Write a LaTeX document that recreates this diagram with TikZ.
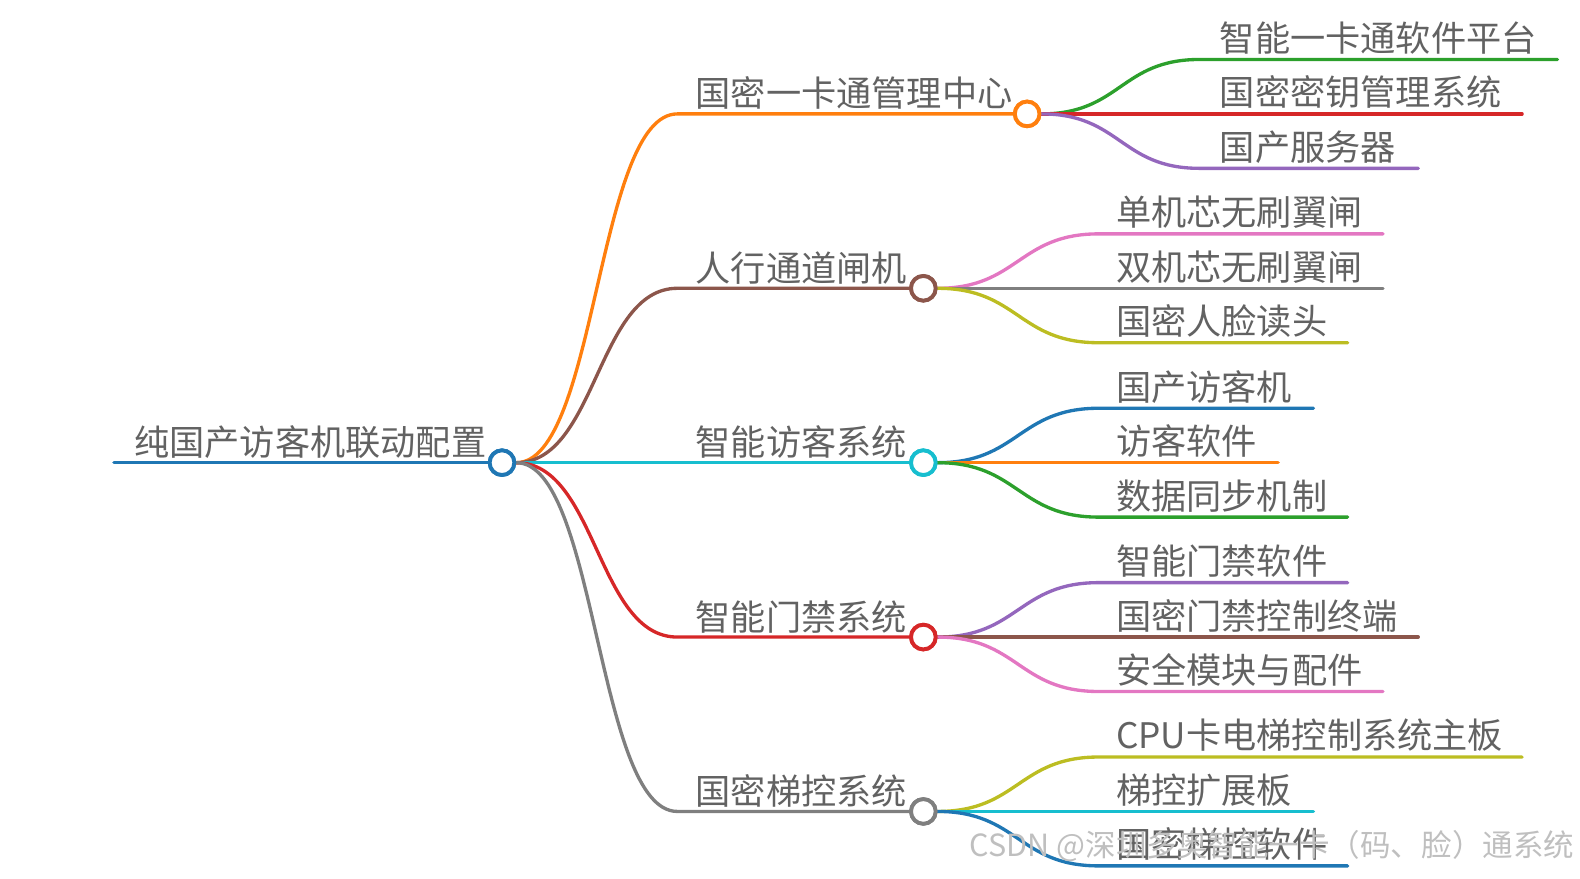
\documentclass[tikz,border=0pt]{standalone}
\usepackage{fontspec}
\usetikzlibrary{calc}
\newfontfamily\cjk{Noto Sans CJK SC}
\definecolor{cblue}{HTML}{1F77B4}
\definecolor{corange}{HTML}{FF7F0E}
\definecolor{cgreen}{HTML}{2CA02C}
\definecolor{cred}{HTML}{D62728}
\definecolor{cpurple}{HTML}{9467BD}
\definecolor{cbrown}{HTML}{8C564B}
\definecolor{cpink}{HTML}{E377C2}
\definecolor{cgray}{HTML}{7F7F7F}
\definecolor{colive}{HTML}{BCBD22}
\definecolor{ccyan}{HTML}{17BECF}
\definecolor{txt}{HTML}{626262}
\tikzset{
  lbl/.style={anchor=base west, inner sep=0pt, text=txt, font=\cjk\fontsize{26.4}{30}\selectfont},
  hub/.style={circle, draw=#1, line width=2.9pt, fill=white, minimum size=18.5pt, inner sep=0pt},
  edge/.style={draw=#1, line width=2.5pt, line cap=round},
  wm/.style={anchor=base west, inner sep=0pt, text=black!25, font=\cjk\fontsize{22.9}{26}\selectfont},
}
% curved link: colour, from, curve end, line end
\newcommand\mmlink[4]{%
  \coordinate (mmmid) at ($(#2)!0.5!(#3)$);
  \draw[edge=#1] (#2) .. controls (mmmid |- #2) and (mmmid |- #3) .. (#3) -- (#4);}
\begin{document}
\begin{tikzpicture}[x=0.756pt,y=-0.756pt]
\useasboundingbox (0,0) rectangle (1567.46,872);
% root
\coordinate (r0) at (113,459);
\node[lbl] (root) at (133,452) {纯国产访客机联动配置};
% level 1 coordinates
\coordinate (a0) at (672,113);
\coordinate (b0) at (672,286);
\coordinate (c0) at (672,459);
\coordinate (d0) at (672,632);
\coordinate (e0) at (672,805);
% level 1 labels
\node[lbl] (at) at (690,106) {国密一卡通管理中心};
\node[lbl] (bt) at (690,279) {人行通道闸机};
\node[lbl] (ct) at (690,452) {智能访客系统};
\node[lbl] (dt) at (690,625) {智能门禁系统};
\node[lbl] (et) at (690,798) {国密梯控系统};
% level 2 labels
\node[lbl] (a1t) at (1210,51) {智能一卡通软件平台};
\node[lbl] (a2t) at (1210,105) {国密密钥管理系统};
\node[lbl] (a3t) at (1210,159) {国产服务器};
\node[lbl] (b1t) at (1107,224) {单机芯无刷翼闸};
\node[lbl] (b2t) at (1107,278) {双机芯无刷翼闸};
\node[lbl] (b3t) at (1107,332) {国密人脸读头};
\node[lbl] (c1t) at (1107,397) {国产访客机};
\node[lbl] (c2t) at (1107,451) {访客软件};
\node[lbl] (c3t) at (1107,505) {数据同步机制};
\node[lbl] (d1t) at (1107,570) {智能门禁软件};
\node[lbl] (d2t) at (1107,624) {国密门禁控制终端};
\node[lbl] (d3t) at (1107,678) {安全模块与配件};
\node[lbl] (e1t) at (1107,743) {CPU卡电梯控制系统主板};
\node[lbl] (e2t) at (1107,797) {梯控扩展板};
\node[lbl] (e3t) at (1107,851) {国密梯控软件};
% hubs
\node[hub=cblue] (R) at (498,459) {};
\node[hub=corange] (A) at (1019,113) {};
\node[hub=cbrown] (B) at (916,286) {};
\node[hub=ccyan] (C) at (916,459) {};
\node[hub=cred] (D) at (916,632) {};
\node[hub=cgray] (E) at (916,805) {};
% level 2 coordinates
\coordinate (a1s) at (1190,59);  \coordinate (a1e) at (1545,59);
\coordinate (a2s) at (1190,113); \coordinate (a2e) at (1510,113);
\coordinate (a3s) at (1190,167); \coordinate (a3e) at (1407,167);
\coordinate (b1s) at (1090,232); \coordinate (b1e) at (1372,232);
\coordinate (b2s) at (1090,286); \coordinate (b2e) at (1372,286);
\coordinate (b3s) at (1090,340); \coordinate (b3e) at (1337,340);
\coordinate (c1s) at (1090,405); \coordinate (c1e) at (1303,405);
\coordinate (c2s) at (1090,459); \coordinate (c2e) at (1268,459);
\coordinate (c3s) at (1090,513); \coordinate (c3e) at (1337,513);
\coordinate (d1s) at (1090,578); \coordinate (d1e) at (1337,578);
\coordinate (d2s) at (1090,632); \coordinate (d2e) at (1407,632);
\coordinate (d3s) at (1090,686); \coordinate (d3e) at (1372,686);
\coordinate (e1s) at (1090,751); \coordinate (e1e) at (1510,751);
\coordinate (e2s) at (1090,805); \coordinate (e2e) at (1303,805);
\coordinate (e3s) at (1090,859); \coordinate (e3e) at (1337,859);
% edges
\draw[edge=cblue] (r0) -- (R.west);
\mmlink{corange}{R.east}{a0}{A.west}
\mmlink{cbrown}{R.east}{b0}{B.west}
\draw[edge=ccyan] (R.east) -- (C.west);
\mmlink{cred}{R.east}{d0}{D.west}
\mmlink{cgray}{R.east}{e0}{E.west}
\mmlink{cgreen}{A.east}{a1s}{a1e}
\draw[edge=cred] (A.east) -- (a2e);
\mmlink{cpurple}{A.east}{a3s}{a3e}
\mmlink{cpink}{B.east}{b1s}{b1e}
\draw[edge=cgray] (B.east) -- (b2e);
\mmlink{colive}{B.east}{b3s}{b3e}
\mmlink{cblue}{C.east}{c1s}{c1e}
\draw[edge=corange] (C.east) -- (c2e);
\mmlink{cgreen}{C.east}{c3s}{c3e}
\mmlink{cpurple}{D.east}{d1s}{d1e}
\draw[edge=cbrown] (D.east) -- (d2e);
\mmlink{cpink}{D.east}{d3s}{d3e}
\mmlink{colive}{E.east}{e1s}{e1e}
\draw[edge=ccyan] (E.east) -- (e2e);
\mmlink{cblue}{E.east}{e3s}{e3e}
% redraw hubs on top of the edges
\node[hub=cblue] at (R) {};
\node[hub=corange] at (A) {};
\node[hub=cbrown] at (B) {};
\node[hub=ccyan] at (C) {};
\node[hub=cred] at (D) {};
\node[hub=cgray] at (E) {};
% watermark
\node[wm] (wmk) at (962,850) {CSDN @深圳多奥智能一卡（码、脸）通系统};
\end{tikzpicture}
\end{document}
